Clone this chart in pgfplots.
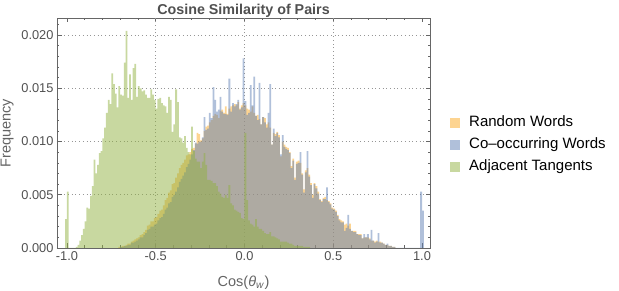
\documentclass[border=0pt]{standalone}
\usepackage{pgfplots}
\pgfplotsset{compat=1.18}
\usepackage{pgfplotstable}
\usepackage{fontspec}
\setmainfont{Liberation Sans}

\definecolor{rbase}{RGB}{251,169,35}
\definecolor{cbase}{RGB}{97,129,181}
\definecolor{abase}{RGB}{145,177,65}
\definecolor{framecol}{RGB}{102,102,102}
\definecolor{gridcol}{RGB}{150,150,150}
\definecolor{tickcol}{RGB}{80,80,80}
\definecolor{labelcol}{RGB}{100,100,100}
\definecolor{titlecol}{RGB}{80,80,80}

\pgfplotstableread{
x y
-0.71 0.0001
-0.70 0.0001
-0.69 0.0002
-0.68 0.0002
-0.67 0.0003
-0.66 0.0004
-0.65 0.0004
-0.64 0.0006
-0.63 0.0007
-0.62 0.0008
-0.61 0.0009
-0.60 0.0010
-0.59 0.0012
-0.58 0.0013
-0.57 0.0015
-0.56 0.0017
-0.55 0.0021
-0.54 0.0022
-0.53 0.0025
-0.52 0.0025
-0.51 0.0028
-0.50 0.0029
-0.49 0.0032
-0.48 0.0035
-0.47 0.0036
-0.46 0.0040
-0.45 0.0045
-0.44 0.0047
-0.43 0.0052
-0.42 0.0054
-0.41 0.0060
-0.40 0.0061
-0.39 0.0066
-0.38 0.0070
-0.37 0.0075
-0.36 0.0078
-0.35 0.0080
-0.34 0.0083
-0.33 0.0087
-0.32 0.0088
-0.31 0.0090
-0.30 0.0093
-0.29 0.0094
-0.28 0.0098
-0.27 0.0108
-0.26 0.0107
-0.25 0.0101
-0.24 0.0103
-0.23 0.0110
-0.22 0.0114
-0.21 0.0115
-0.20 0.0118
-0.19 0.0120
-0.18 0.0124
-0.17 0.0126
-0.16 0.0125
-0.15 0.0122
-0.14 0.0129
-0.13 0.0130
-0.12 0.0127
-0.11 0.0133
-0.10 0.0126
-0.09 0.0131
-0.08 0.0133
-0.07 0.0134
-0.06 0.0135
-0.05 0.0134
-0.04 0.0137
-0.03 0.0131
-0.02 0.0134
-0.01 0.0136
0.00 0.0134
0.01 0.0131
0.02 0.0130
0.03 0.0128
0.04 0.0133
0.05 0.0127
0.06 0.0124
0.07 0.0125
0.08 0.0121
0.09 0.0116
0.10 0.0123
0.11 0.0122
0.12 0.0116
0.13 0.0118
0.14 0.0113
0.15 0.0097
0.16 0.0108
0.17 0.0107
0.18 0.0109
0.19 0.0106
0.20 0.0086
0.21 0.0100
0.22 0.0097
0.23 0.0095
0.24 0.0094
0.25 0.0090
0.26 0.0077
0.27 0.0084
0.28 0.0066
0.29 0.0081
0.30 0.0082
0.31 0.0080
0.32 0.0070
0.33 0.0055
0.34 0.0073
0.35 0.0075
0.36 0.0069
0.37 0.0061
0.38 0.0050
0.39 0.0061
0.40 0.0058
0.41 0.0053
0.42 0.0046
0.43 0.0044
0.44 0.0047
0.45 0.0048
0.46 0.0045
0.47 0.0044
0.48 0.0042
0.49 0.0038
0.50 0.0037
0.51 0.0035
0.52 0.0031
0.53 0.0027
0.54 0.0026
0.55 0.0025
0.56 0.0022
0.57 0.0023
0.58 0.0021
0.59 0.0023
0.60 0.0016
0.61 0.0016
0.62 0.0016
0.63 0.0013
0.64 0.0013
0.65 0.0013
0.66 0.0009
0.67 0.0010
0.68 0.0010
0.69 0.0010
0.70 0.0009
0.71 0.0007
0.72 0.0007
0.73 0.0006
0.74 0.0007
0.75 0.0006
0.76 0.0006
0.77 0.0005
0.78 0.0004
0.79 0.0003
0.80 0.0003
0.81 0.0002
0.82 0.0002
0.83 0.0001
0.84 0.0001
0.85 0
}\randomtab

\pgfplotstableread{
x y
-0.70 0.0001
-0.69 0.0001
-0.68 0.0002
-0.67 0.0002
-0.66 0.0003
-0.65 0.0003
-0.64 0.0005
-0.63 0.0005
-0.62 0.0006
-0.61 0.0007
-0.60 0.0008
-0.59 0.0010
-0.58 0.0010
-0.57 0.0012
-0.56 0.0014
-0.55 0.0017
-0.54 0.0018
-0.53 0.0020
-0.52 0.0020
-0.51 0.0022
-0.50 0.0023
-0.49 0.0026
-0.48 0.0028
-0.47 0.0029
-0.46 0.0032
-0.45 0.0036
-0.44 0.0038
-0.43 0.0042
-0.42 0.0043
-0.41 0.0048
-0.40 0.0050
-0.39 0.0053
-0.38 0.0057
-0.37 0.0062
-0.36 0.0065
-0.35 0.0068
-0.34 0.0071
-0.33 0.0076
-0.32 0.0079
-0.31 0.0083
-0.30 0.0088
-0.29 0.0092
-0.28 0.0099
-0.27 0.0098
-0.26 0.0100
-0.25 0.0100
-0.24 0.0104
-0.23 0.0123
-0.22 0.0111
-0.21 0.0112
-0.20 0.0127
-0.19 0.0122
-0.18 0.0151
-0.17 0.0139
-0.16 0.0128
-0.15 0.0130
-0.14 0.0142
-0.13 0.0128
-0.12 0.0126
-0.11 0.0126
-0.10 0.0125
-0.09 0.0159
-0.08 0.0128
-0.07 0.0136
-0.06 0.0133
-0.05 0.0135
-0.04 0.0139
-0.03 0.0130
-0.02 0.0132
-0.01 0.0178
0.00 0.0138
0.01 0.0125
0.02 0.0127
0.03 0.0153
0.04 0.0134
0.05 0.0161
0.06 0.0124
0.07 0.0120
0.08 0.0155
0.09 0.0116
0.10 0.0123
0.11 0.0118
0.12 0.0113
0.13 0.0127
0.14 0.0154
0.15 0.0097
0.16 0.0112
0.17 0.0105
0.18 0.0108
0.19 0.0104
0.20 0.0088
0.21 0.0106
0.22 0.0095
0.23 0.0093
0.24 0.0092
0.25 0.0089
0.26 0.0075
0.27 0.0082
0.28 0.0064
0.29 0.0079
0.30 0.0080
0.31 0.0090
0.32 0.0069
0.33 0.0052
0.34 0.0071
0.35 0.0091
0.36 0.0067
0.37 0.0059
0.38 0.0047
0.39 0.0060
0.40 0.0056
0.41 0.0051
0.42 0.0045
0.43 0.0043
0.44 0.0046
0.45 0.0046
0.46 0.0057
0.47 0.0043
0.48 0.0041
0.49 0.0037
0.50 0.0036
0.51 0.0034
0.52 0.0030
0.53 0.0026
0.54 0.0024
0.55 0.0024
0.56 0.0016
0.57 0.0019
0.58 0.0031
0.59 0.0018
0.60 0.0016
0.61 0.0015
0.62 0.0015
0.63 0.0013
0.64 0.0012
0.65 0.0012
0.66 0.0009
0.67 0.0013
0.68 0.0010
0.69 0.0013
0.70 0.0008
0.71 0.0017
0.72 0.0007
0.73 0.0005
0.74 0.0006
0.75 0.0014
0.76 0.0005
0.77 0.0005
0.78 0.0004
0.79 0.0003
0.80 0.0004
0.81 0.0002
0.82 0.0002
0.83 0.0001
0.84 0.0001
0.85 0
0.99 0.0053
1.00 0.0035
1.01 0
}\cooctab

\pgfplotstableread{
x y
-1.01 0.0027
-1.00 0.0053
-0.99 0
-0.95 0.0001
-0.94 0.0003
-0.93 0.0007
-0.92 0.0012
-0.91 0.0018
-0.90 0.0025
-0.89 0.0038
-0.88 0.0037
-0.87 0.0049
-0.86 0.0058
-0.85 0.0083
-0.84 0.0070
-0.83 0.0078
-0.82 0.0089
-0.81 0.0091
-0.80 0.0103
-0.79 0.0113
-0.78 0.0127
-0.77 0.0139
-0.76 0.0135
-0.75 0.0164
-0.74 0.0154
-0.73 0.0145
-0.72 0.0132
-0.71 0.0152
-0.70 0.0144
-0.69 0.0143
-0.68 0.0174
-0.67 0.0204
-0.66 0.0141
-0.65 0.0163
-0.64 0.0139
-0.63 0.0169
-0.62 0.0173
-0.61 0.0142
-0.60 0.0152
-0.59 0.0150
-0.58 0.0147
-0.57 0.0148
-0.56 0.0144
-0.55 0.0141
-0.54 0.0141
-0.53 0.0149
-0.52 0.0144
-0.51 0.0139
-0.50 0.0131
-0.49 0.0140
-0.48 0.0141
-0.47 0.0136
-0.46 0.0134
-0.45 0.0133
-0.44 0.0127
-0.43 0.0142
-0.42 0.0139
-0.41 0.0109
-0.40 0.0116
-0.39 0.0149
-0.38 0.0137
-0.37 0.0104
-0.36 0.0103
-0.35 0.0099
-0.34 0.0105
-0.33 0.0094
-0.32 0.0090
-0.31 0.0088
-0.30 0.0114
-0.29 0.0091
-0.28 0.0084
-0.27 0.0081
-0.26 0.0081
-0.25 0.0075
-0.24 0.0081
-0.23 0.0089
-0.22 0.0078
-0.21 0.0064
-0.20 0.0064
-0.19 0.0063
-0.18 0.0061
-0.17 0.0061
-0.16 0.0058
-0.15 0.0053
-0.14 0.0051
-0.13 0.0048
-0.12 0.0047
-0.11 0.0050
-0.10 0.0047
-0.09 0.0059
-0.08 0.0042
-0.07 0.0040
-0.06 0.0036
-0.05 0.0035
-0.04 0.0034
-0.03 0.0033
-0.02 0.0028
-0.01 0.0027
0.00 0.0108
0.01 0.0045
0.02 0.0026
0.03 0.0023
0.04 0.0022
0.05 0.0020
0.06 0.0027
0.07 0.0020
0.08 0.0018
0.09 0.0018
0.10 0.0016
0.11 0.0014
0.12 0.0013
0.13 0.0013
0.14 0.0015
0.15 0.0011
0.16 0.0011
0.17 0.0010
0.18 0.0009
0.19 0.0008
0.20 0.0006
0.21 0.0006
0.22 0.0006
0.23 0.0006
0.24 0.0005
0.25 0.0004
0.26 0.0004
0.27 0.0003
0.28 0.0002
0.29 0.0002
0.30 0.0002
0.31 0.0002
0.32 0.0002
0.33 0.0001
0.34 0.0001
0.35 0.0001
0.36 0.0001
0.37 0
}\adjtab

\begin{document}
\begin{tikzpicture}
\useasboundingbox (0,0) rectangle (619pt,291pt);
\begin{axis}[
  at={(57pt,43pt)}, anchor=south west,
  scale only axis, width=373pt, height=230pt,
  xmin=-1.056, xmax=1.045, ymin=0, ymax=0.0216,
  axis line style={draw=framecol, line width=0.8pt},
  xtick={-1,-0.5,0,0.5,1},
  xticklabels={-1.0,-0.5,0.0,0.5,1.0},
  minor xtick={-0.9,-0.8,-0.7,-0.6,-0.4,-0.3,-0.2,-0.1,0.1,0.2,0.3,0.4,0.6,0.7,0.8,0.9},
  ytick={0,0.005,0.01,0.015,0.02},
  yticklabels={0.000,0.005,0.010,0.015,0.020},
  minor ytick={0.001,0.002,0.003,0.004,0.006,0.007,0.008,0.009,0.011,0.012,0.013,0.014,0.016,0.017,0.018,0.019,0.021},
  scaled y ticks=false,
  tick align=inside,
  major tick length=4.5pt, minor tick length=2.5pt,
  every tick/.style={draw=framecol, line width=0.6pt},
  ymajorgrids=true,
  extra x ticks={-0.5,0,0.5},
  extra x tick labels={},
  extra x tick style={xmajorgrids=true, major tick length=0pt},
  grid style={draw=gridcol, line width=0.8pt, dash pattern=on 0.9pt off 2.8pt},
  tick label style={font=\fontsize{12.8}{15}\selectfont, text=tickcol},
  title={Cosine Similarity of Pairs},
  title style={font=\fontsize{14.3}{17}\selectfont\bfseries, text=titlecol, at={(0.5,1)}, anchor=base, yshift=-3pt},
  xlabel={Cos(\textit{θ}\textsubscript{\textit{w}})},
  xlabel style={font=\fontsize{14.5}{17}\selectfont, text=labelcol, at={(0.5,0)}, anchor=base, yshift=-38.5pt},
  ylabel={Frequency},
  ylabel style={font=\fontsize{14.5}{17}\selectfont, text=labelcol, at={(-0.1244,0.5)}, anchor=base},
  legend cell align=left,
  legend image code/.code={\fill[#1] (0pt,-5pt) rectangle (10pt,5pt);},
  legend style={at={(1.0536,0.4457)}, anchor=west, draw=none, fill=none, inner sep=0pt,
    font=\fontsize{15}{18}\selectfont, row sep=7pt, column sep=9pt,
    nodes={inner sep=0pt, text height=11pt, text depth=4pt}},
]
\addplot[const plot mark left, draw=none, fill=rbase, fill opacity=0.5] table[x=x,y=y]{\randomtab} \closedcycle;
\addlegendentry{Random Words}
\addplot[const plot mark left, draw=none, fill=cbase, fill opacity=0.5] table[x=x,y=y]{\cooctab} \closedcycle;
\addlegendentry{Co–occurring Words}
\addplot[const plot mark left, draw=none, fill=abase, fill opacity=0.5] table[x=x,y=y]{\adjtab} \closedcycle;
\addlegendentry{Adjacent Tangents}
\end{axis}
\end{tikzpicture}
\end{document}
